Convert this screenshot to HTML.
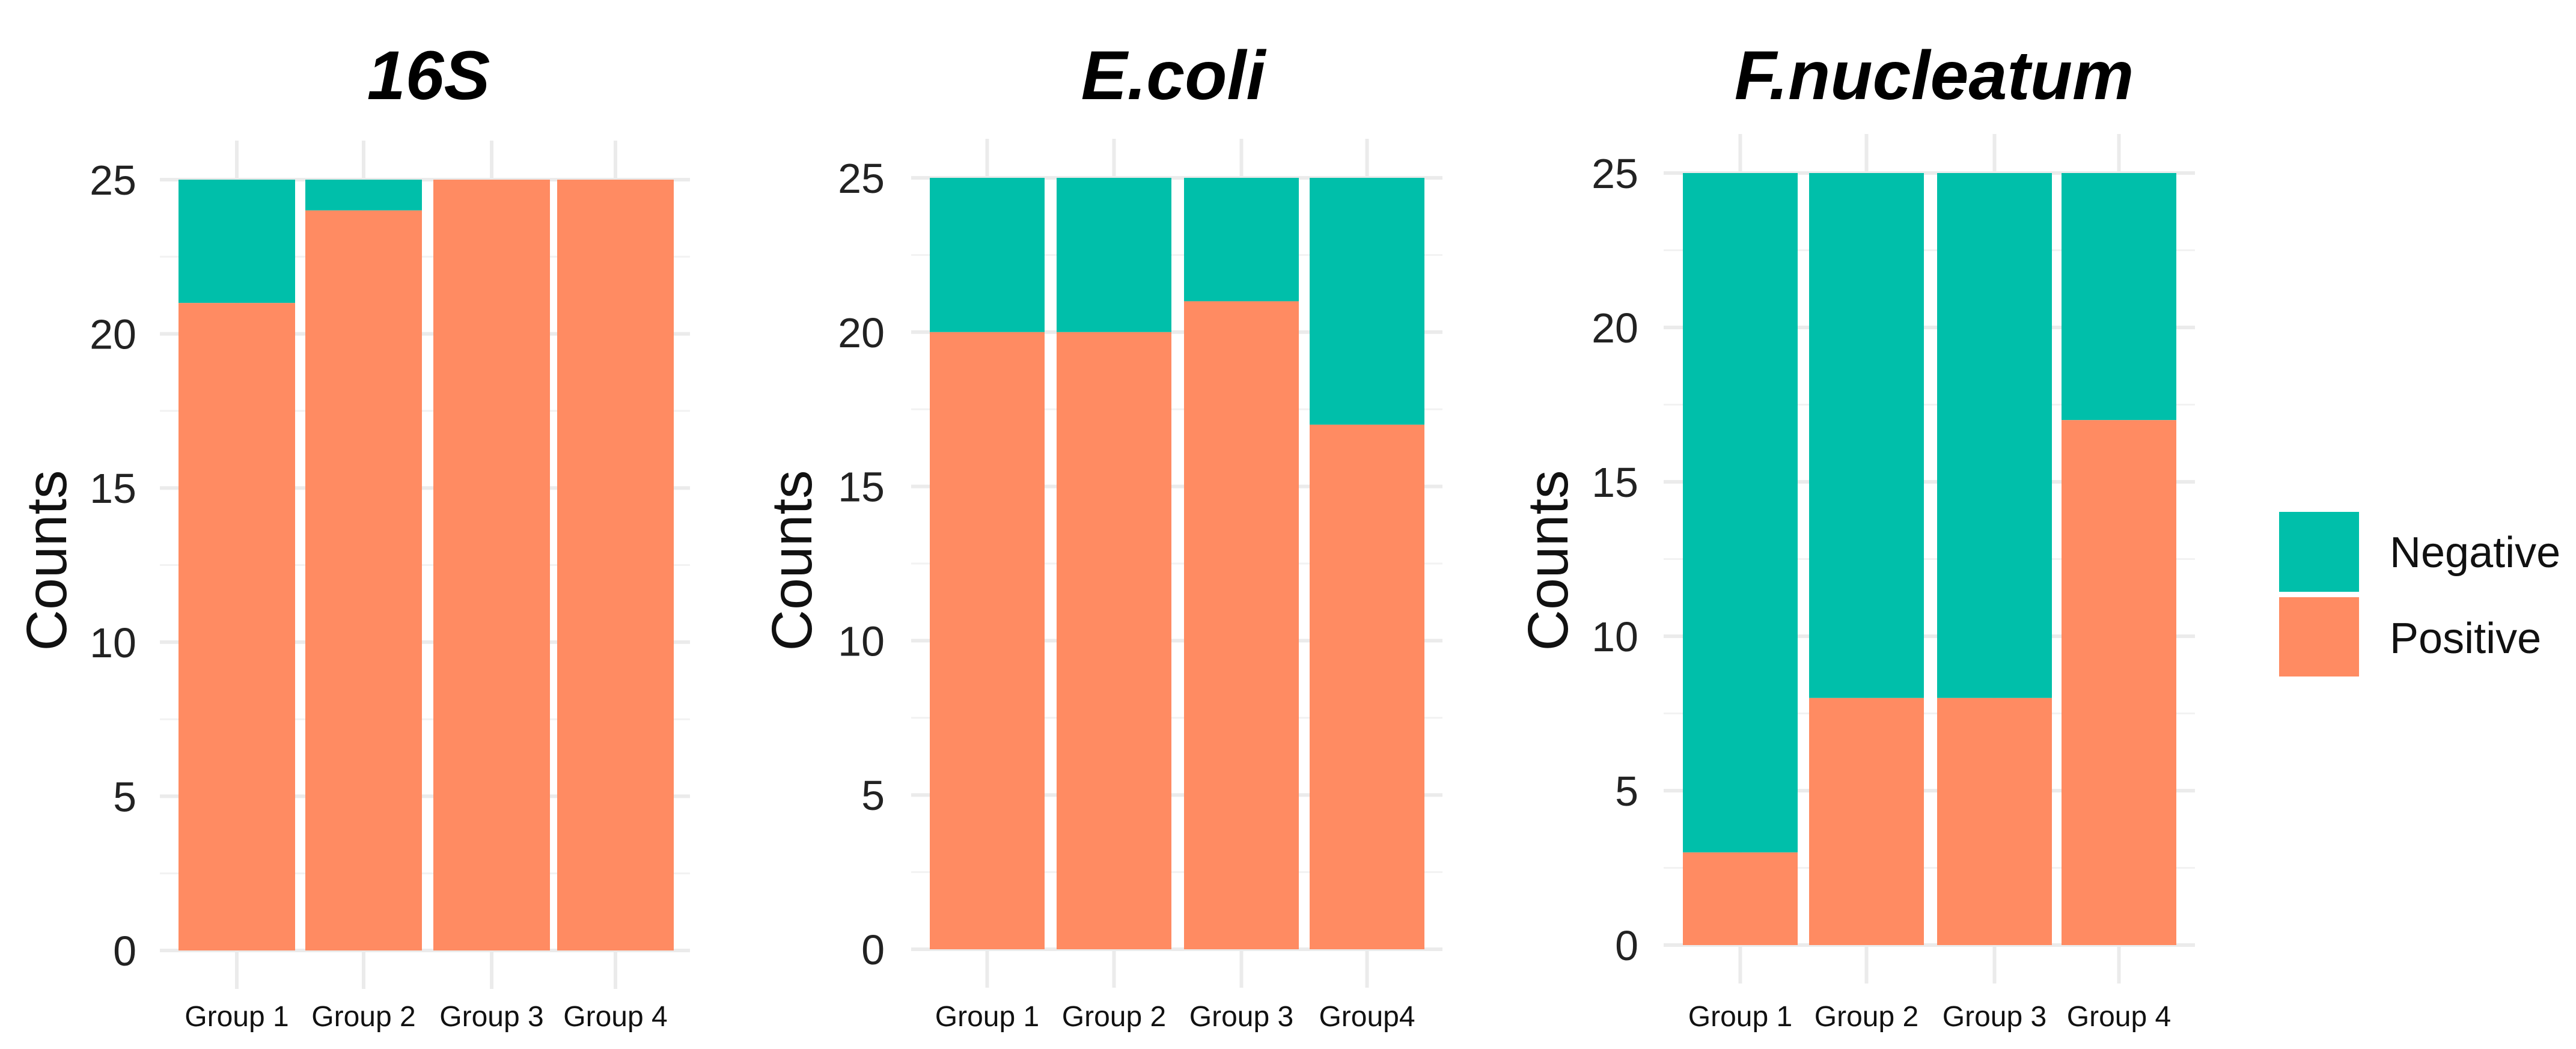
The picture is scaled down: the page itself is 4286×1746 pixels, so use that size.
<!DOCTYPE html>
<html><head><meta charset="utf-8"><style>
html,body{margin:0;padding:0;background:#fff;}
svg{display:block;font-family:"Liberation Sans",Arial,sans-serif;}
</style></head><body>
<svg id="chart" width="4286" height="1746" viewBox="0 0 4286 1746" xmlns="http://www.w3.org/2000/svg">
<g>
<rect x="3792" y="852" width="133" height="133" fill="#00BFAA"/>
<rect x="3792" y="994" width="133" height="132" fill="#FF8B62"/>
<text x="3976" y="944" font-size="72" fill="#111">Negative</text>
<text x="3976" y="1087" font-size="72" fill="#111">Positive</text>
</g>
</svg>
<script>
const titles = ["16S", "E.coli", "F.nucleatum"];
const groups16S = ["Group 1", "Group 2", "Group 3", "Group 4"];
const groupsEcoli = ["Group 1", "Group 2", "Group 3", "Group4"];
const groupsFnuc = ["Group 1", "Group 2", "Group 3", "Group 4"];
const positive16S = [21, 24, 25, 25];
const positiveEcoli = [20, 20, 21, 17];
const positiveFnuc = [3, 8, 8, 17];
const totals16S = [25, 25, 25, 25];
const totalsEcoli = [25, 25, 25, 25];
const totalsFnuc = [25, 25, 25, 25];
const yTicks = [0, 5, 10, 15, 20, 25];
const yMinor = [2.5, 7.5, 12.5, 17.5, 22.5];

const NS = "http://www.w3.org/2000/svg";
const svg = document.getElementById("chart");
function mk(tag, attrs, parent){
  const e = document.createElementNS(NS, tag);
  for (const k in attrs) e.setAttribute(k, attrs[k]);
  (parent || svg).appendChild(e);
  return e;
}
const panels = [
  {title: titles[0], groups: groups16S, pos: positive16S, tot: totals16S, slug: "16s",
   gx0: 266, gx1: 1148, y25: 299, y0: 1582, labR: 227, countsX: 77, titleX: 713, bars: [297, 508, 721, 927], bw: 194},
  {title: titles[1], groups: groupsEcoli, pos: positiveEcoli, tot: totalsEcoli, slug: "ecoli",
   gx0: 1516, gx1: 2400, y25: 296, y0: 1580, labR: 1472, countsX: 1317, titleX: 1952, bars: [1547, 1758, 1970, 2179], bw: 191},
  {title: titles[2], groups: groupsFnuc, pos: positiveFnuc, tot: totalsFnuc, slug: "fnucleatum",
   gx0: 2768, gx1: 3652, y25: 288, y0: 1573, labR: 2726, countsX: 2575, titleX: 3218, bars: [2800, 3010, 3223, 3430], bw: 191}
];
panels.forEach(p => {
  const g = mk("g", {});
  
  
  const y = v => p.y0 - (p.y0 - p.y25) * v / 25;
  yMinor.forEach(v => {
    const l = mk("line", {x1: p.gx0, x2: p.gx1, y1: y(v), y2: y(v), stroke: "#f2f2f2", "stroke-width": 3}, g);
    
    
  });
  yTicks.forEach(v => {
    const l = mk("line", {x1: p.gx0, x2: p.gx1, y1: y(v), y2: y(v), stroke: "#ebebeb", "stroke-width": 6}, g);
    
    
    const t = mk("text", {x: p.labR, y: y(v) + 25, "font-size": 70, "text-anchor": "end", fill: "#222"}, g);
    t.textContent = v;
    
    
  });
  p.groups.forEach((name, i) => {
    const cx = p.bars[i] + p.bw / 2;
    const vl = mk("line", {x1: cx, x2: cx, y1: p.y25 - 65, y2: p.y0 + 64, stroke: "#ebebeb", "stroke-width": 6}, g);
    
    
    const neg = mk("rect", {x: p.bars[i], y: y(p.tot[i]), width: p.bw, height: y(p.pos[i]) - y(p.tot[i]), fill: "#00BFAA"}, g);
    
    
    const pos = mk("rect", {x: p.bars[i], y: y(p.pos[i]), width: p.bw, height: p.y0 - y(p.pos[i]), fill: "#FF8B62"}, g);
    
    
    const t = mk("text", {x: cx, y: 1708, "font-size": 48, "text-anchor": "middle", fill: "#111"}, g);
    t.textContent = name;
    
    
  });
  const ct = mk("text", {x: p.countsX + 33, y: 933, "font-size": 95, "text-anchor": "middle", fill: "#111", transform: "rotate(-90 " + (p.countsX + 33) + " 933)"}, g);
  ct.textContent = "Counts";
  
  
  const tt = mk("text", {x: p.titleX, y: 165, "font-size": 115, "font-weight": "bold", "font-style": "italic", "text-anchor": "middle", fill: "#000"}, g);
  tt.textContent = p.title;
  
  
});
</script>
</body></html>
